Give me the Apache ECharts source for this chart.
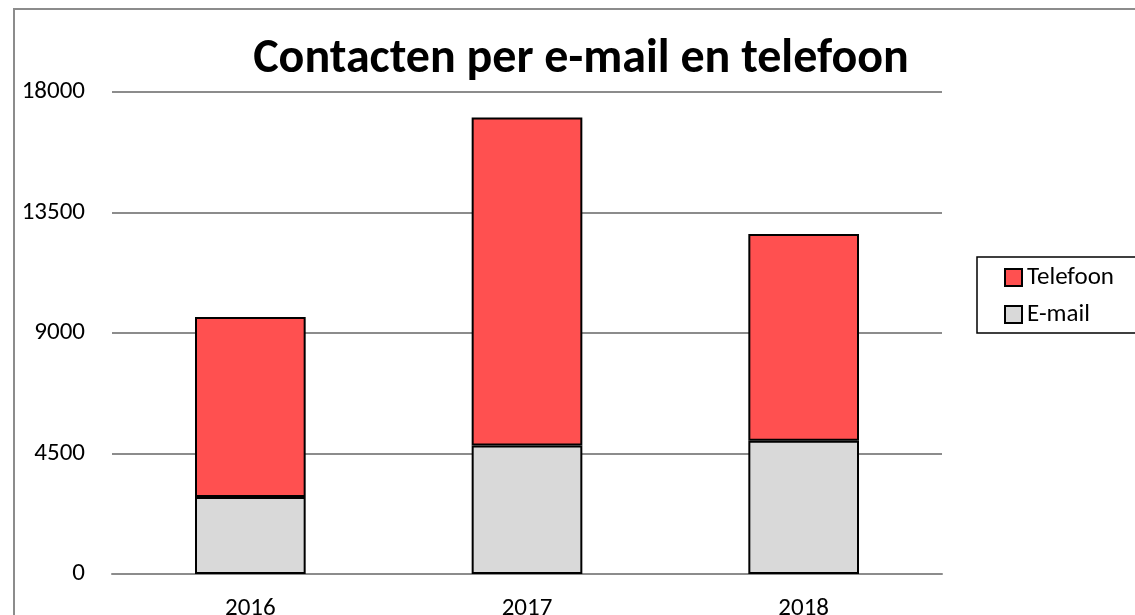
<!DOCTYPE html>
<html>
<head>
<meta charset="utf-8">
<script src="https://cdn.jsdelivr.net/npm/echarts@6/dist/echarts.min.js"></script>
<style>
  html, body { margin: 0; padding: 0; background: #fff; overflow: hidden; }
  #frame { position: absolute; left: 13px; top: 8px; width: 1130px; height: 620px; border: 2px solid #8c8c8c; box-sizing: border-box; }
  #main { position: absolute; left: 0; top: 0; width: 1135px; height: 615px; }
</style>
</head>
<body>
<div id="frame"></div>
<div id="main"></div>
<script>
// data
var years = ['2016', '2017', '2018'];
var email = [2875, 4800, 4980];
var telefoon = [6725, 12250, 7720];
var yTicks = [0, 4500, 9000, 13500, 18000];

var font = 'Carlito, Lato, "Noto Sans", sans-serif';

var myChart = echarts.init(document.getElementById('main'));
var option = {
    animation: false,
    textStyle: { fontFamily: font },
    title: {
        text: 'Contacten per e-mail en telefoon',
        left: 576,
        top: 31,
        textAlign: 'center',
        textStyle: { fontSize: 48, fontWeight: 'bold', color: '#000', fontFamily: font }
    },
    legend: {
        orient: 'vertical',
        left: 977,
        top: 257,
        data: ['Telefoon', 'E-mail'],
        icon: 'rect',
        itemWidth: 17,
        itemHeight: 17,
        itemGap: 12,
        padding: [8, 40, 6, 27],
        borderColor: '#000',
        borderWidth: 1.5,
        borderRadius: 0,
        textStyle: { fontSize: 25, color: '#000', fontFamily: font }
    },
    grid: { left: 112, right: 193, top: 92, bottom: 41, containLabel: false, outerBoundsMode: 'none' },
    xAxis: {
        type: 'category',
        data: years,
        axisLine: { lineStyle: { color: '#8c8c8c', width: 2 } },
        axisTick: { show: false },
        axisLabel: { fontSize: 25, color: '#000', margin: 22, fontFamily: font }
    },
    yAxis: {
        type: 'value',
        min: yTicks[0],
        max: yTicks[yTicks.length - 1],
        interval: 4500,
        axisLine: { show: false },
        axisTick: { show: false },
        splitLine: { lineStyle: { color: '#8c8c8c', width: 2 } },
        axisLabel: {
            fontSize: 25, color: '#000', margin: 27, fontFamily: font,
            formatter: function (v) { return String(v); }
        }
    },
    series: [{
        name: 'E-mail',
        type: 'bar',
        stack: 'total',
        barWidth: '40%',
        data: email,
        itemStyle: { color: '#d9d9d9', borderColor: '#000', borderWidth: 2 }
    }, {
        name: 'Telefoon',
        type: 'bar',
        stack: 'total',
        barWidth: '40%',
        data: telefoon,
        itemStyle: { color: '#ff5050', borderColor: '#000', borderWidth: 2 }
    }]
};
myChart.setOption(option);
</script>
</body>
</html>
